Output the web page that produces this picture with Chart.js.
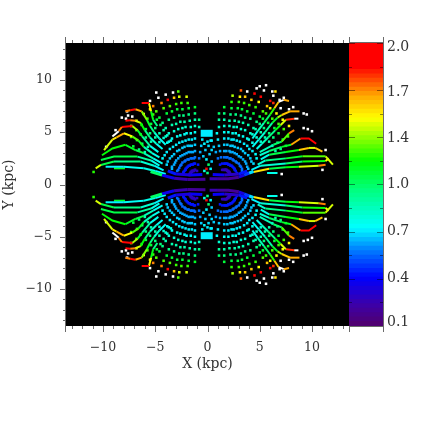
<!DOCTYPE html>
<html>
<head>
<meta charset="utf-8">
<style>
  html, body { margin: 0; padding: 0; background: #fff; }
  #wrap { position: relative; width: 436px; height: 436px; overflow: hidden; }
  canvas { position: absolute; top: 0; }
  #mapCanvas { left: 0; }
  #barCanvas { left: 349px; }
</style>
<script src="https://cdn.jsdelivr.net/npm/chart.js@4"></script>
</head>
<body>
<div id="wrap">
  <canvas id="mapCanvas" width="436" height="436"></canvas>
  <canvas id="barCanvas" width="87" height="436"></canvas>
</div>
<script>
// Readings are [x kpc, y kpc, value]. Upper half only: the lower half of the
// picture is its mirror image, so the same readings are drawn with y negated.

// separate dots, one row per arm, right of centre
const dotsRight = [
  [1.4,1.4,.28],[1.2,1.9,.45],[1,2.5,.58],[.8,3.1,.66],[.6,3.6,.7],[.4,4.2,.74],
  [1.5,1.4,.28],[1.4,2,.45],[1.3,2.6,.58],[1.2,3.2,.66],[1.1,3.7,.7],[1,4.3,.74],[.9,4.9,.78],[1.1,5.5,.85],[1.1,6.2,.95],[1.1,6.8,1.05],
  [1.6,1.4,.28],[1.6,2,.45],[1.6,2.6,.58],[1.6,3.2,.66],[1.6,3.8,.7],[1.6,4.4,.74],[1.6,5,.78],[1.6,5.6,.85],[1.6,6.2,.92],[1.6,6.8,1.02],[1.6,7.4,1.12],
  [1.7,1.4,.28],[1.7,2,.45],[1.8,2.6,.58],[1.8,3.2,.66],[1.9,3.8,.7],[2,4.4,.74],[2,5,.78],[2.1,5.6,.85],[2.1,6.1,.92],[2.2,6.7,1],[2.3,7.3,1.12],[2.3,7.9,1.25],[2.4,8.5,1.4],
  [1.7,1.4,.28],[1.8,2,.45],[1.9,2.6,.58],[2.1,3.2,.66],[2.2,3.7,.7],[2.3,4.3,.74],[2.4,4.9,.78],[2.5,5.5,.85],[2.6,6.1,.92],[2.7,6.7,1],[2.9,7.3,1.12],[3,7.9,1.27],[3.1,8.4,1.5],[3.2,9,1.75],
  [1.8,1.4,.28],[1.9,2,.45],[2.1,2.5,.58],[2.2,3.1,.66],[2.4,3.7,.7],[2.5,4.3,.74],[2.7,4.9,.78],[2.8,5.5,.85],[3,6,.92],[3.2,6.6,1],[3.3,7.2,1.12],[3.5,7.8,1.27],[3.6,8.4,1.6],[3.8,8.9,2.2],
  [1.8,1.4,.28],[2,1.9,.45],[2.2,2.5,.58],[2.4,3.1,.66],[2.6,3.6,.7],[2.8,4.2,.74],[3,4.7,.78],[3.2,5.3,.85],[3.4,5.9,.92],[3.6,6.4,1],[3.8,7,1.12],[4,7.6,1.27],[4.2,8.1,1.6],[4.5,8.7,1.9],[4.7,9.2,2.2],
  [1.9,1.3,.28],[2.1,1.9,.45],[2.4,2.4,.58],[2.6,3,.66],[2.9,3.5,.7],[3.1,4.1,.74],[3.4,4.6,.78],[3.6,5.2,.85],[3.9,5.7,.92],[4.1,6.3,1],[4.4,6.8,1.12],[4.6,7.4,1.27],[4.9,7.9,1.5],[5.1,8.4,1.85],[5.4,9,2.2],[5.6,9.5,2.2],
  [1.9,1.3,.28],[2.2,1.8,.45],[2.5,2.3,.58],[2.8,2.9,.66],[3.2,3.4,.7],[3.5,3.9,.74],[3.8,4.4,.78],[4.1,4.9,.85],[4.4,5.4,.92],[4.7,6,1],[5,6.5,1.12],[5.3,7,1.3],[5.7,7.5,1.6],[6,8,1.85],[6.3,8.5,2.2],[6.5,8.9,1.55],
  [2,1.3,.28],[2.3,1.8,.45],[2.7,2.2,.58],[3,2.7,.66],[3.4,3.2,.7],[3.8,3.7,.74],
  [2,1.2,.28],[2.4,1.7,.45],[2.8,2.1,.58],[3.2,2.6,.66],[3.6,3,.7],[4,3.4,.74],
  [2.1,1.2,.28],[2.5,1.6,.45],[3,2,.58],[3.4,2.4,.66],[3.9,2.8,.7],[4.3,3.2,.74],
  [2.1,1.1,.28],[2.6,1.5,.45],[3.1,1.8,.58],[3.6,2.2,.66],[4.1,2.5,.7],[4.6,2.9,.76],
  [2.1,1.1,.28],[2.6,1.4,.45],[3.2,1.7,.58],[3.7,2,.66],[4.2,2.2,.7],[4.7,2.5,.76],
  [2.2,1,.28],[2.7,1.3,.45],[3.3,1.5,.58],[3.8,1.7,.66],[4.4,2,.72],
  [2.2,1,.28],[2.8,1.1,.45],[3.3,1.3,.58],[3.9,1.5,.68],
  [3.95,4.3,.8],[4.3,4.8,.85],[4.6,5.3,.92],[5,5.8,1.02],[5.3,6.3,1.12],[5.6,6.8,1.28],[6,7.3,1.5],[6.3,7.8,1.8],
  [4.3,4,.8],[4.7,4.5,.85],[5.1,5,.92],[5.4,5.4,1.02],[5.8,5.9,1.12],[6.2,6.3,1.28],[6.6,6.8,1.5],
  [5.1,4.1,.85],[5.5,4.5,.92],[5.9,4.9,1.02],[6.4,5.4,1.12],[6.8,5.8,1.28],[7.2,6.2,1.5],
  [5.9,4.1,.92],[6.3,4.5,1.02],[6.8,4.9,1.12],[7.3,5.3,1.28],[7.8,5.6,1.5],
  [6.2,3.7,.92],[6.7,4,1.02],[7.2,4.3,1.12],[7.7,4.6,1.28],
  [6.5,3.2,.92],[7,3.4,1.02],[7.5,3.7,1.12],
  [7,7.3,2.2],[7.8,7.2,2.2],[8.2,7.4,2.2],[9.2,6.8,2.2],[9.5,6.7,2.2],[9.2,5.4,2.2],[9.6,5.3,2.2],[10,5.1,2.2],
  [7.1,1,2.2],[11,1.4,2.2],[11.3,3.3,2.2],[6.9,8.1,2.2],[7.3,8.3,2.2],[6.2,8.9,2.2],[5,9.4,2.2]
];

// separate dots, left of centre
const dotsLeft = [
  [-1,1.3,.28],[-.9,1.9,.45],[-.8,2.5,.58],[-.7,3.1,.66],[-.6,3.7,.7],[-.5,4.3,.74],[-.5,4.9,.78],[-.8,5.5,.88],[-.8,6.2,1],
  [-1.2,1.4,.28],[-1.2,2,.45],[-1.2,2.6,.58],[-1.2,3.2,.66],[-1.2,3.8,.7],[-1.2,4.4,.74],[-1.2,5,.78],[-1.2,5.6,.85],[-1.2,6.2,.92],[-1.2,6.8,1.02],[-1.2,7.4,1.15],
  [-1.2,1.4,.28],[-1.3,2,.45],[-1.3,2.5,.58],[-1.4,3.1,.66],[-1.5,3.7,.7],[-1.5,4.3,.74],[-1.6,4.9,.78],[-1.6,5.5,.85],[-1.7,6.1,.92],[-1.8,6.7,1],[-1.8,7.3,1.12],[-1.9,7.8,1.27],[-2,8.4,1.45],
  [-1.3,1.3,.28],[-1.4,1.9,.45],[-1.5,2.5,.58],[-1.6,3.1,.66],[-1.7,3.7,.7],[-1.8,4.3,.74],[-2,4.9,.78],[-2.1,5.5,.85],[-2.2,6,.92],[-2.3,6.6,1],[-2.4,7.2,1.12],[-2.5,7.8,1.27],[-2.7,8.4,1.45],[-2.8,8.9,1.3],
  [-1.3,1.3,.28],[-1.5,1.9,.45],[-1.6,2.5,.58],[-1.8,3.1,.66],[-1.9,3.7,.7],[-2.1,4.2,.74],[-2.2,4.8,.78],[-2.4,5.4,.85],[-2.6,6,.92],[-2.7,6.6,1],[-2.9,7.2,1.12],[-3,7.7,1.27],[-3.2,8.3,1.6],[-3.3,8.8,2.2],
  [-1.4,1.3,.28],[-1.6,1.9,.45],[-1.8,2.4,.58],[-2,3,.66],[-2.2,3.6,.7],[-2.4,4.1,.74],[-2.6,4.7,.78],[-2.8,5.3,.85],[-3,5.8,.92],[-3.2,6.4,1],[-3.4,7,1.12],[-3.6,7.5,1.3],[-3.8,8.1,1.85],[-4,8.6,2.2],
  [-1.4,1.3,.28],[-1.7,1.8,.45],[-1.9,2.4,.58],[-2.2,2.9,.66],[-2.4,3.5,.7],[-2.7,4,.74],[-2.9,4.6,.78],[-3.2,5.1,.85],[-3.4,5.7,.92],[-3.7,6.2,1],[-3.9,6.8,1.12],[-4.2,7.3,1.3],[-4.4,7.8,1.7],[-4.7,8.3,2.2],[-4.9,8.8,2.2],
  [-1.5,1.3,.28],[-1.8,1.8,.45],[-2.1,2.3,.58],[-2.4,2.8,.66],[-2.7,3.3,.7],[-3,3.8,.74],[-3.4,4.4,.78],[-3.7,4.9,.85],[-4,5.4,.92],[-4.3,5.9,1],[-4.6,6.4,1.12],[-4.9,7,1.3],[-5.2,7.5,1.7],[-5.5,8,2.2],
  [-1.5,1.2,.28],[-1.9,1.7,.45],[-2.2,2.2,.58],[-2.6,2.7,.66],[-2.9,3.2,.7],[-3.3,3.6,.74],[-3.7,4.1,.78],[-4,4.6,.85],
  [-1.6,1.2,.28],[-2,1.6,.45],[-2.4,2.1,.58],[-2.8,2.5,.66],[-3.2,2.9,.7],[-3.6,3.4,.74],
  [-1.6,1.1,.28],[-2.1,1.5,.45],[-2.5,1.9,.58],[-3,2.3,.66],[-3.4,2.7,.7],[-3.9,3.1,.74],
  [-1.6,1.1,.28],[-2.1,1.4,.45],[-2.6,1.8,.58],[-3.1,2.1,.66],[-3.6,2.5,.7],[-4.1,2.8,.74],
  [-1.7,1,.28],[-2.2,1.3,.45],[-2.7,1.6,.58],[-3.2,1.9,.66],[-3.8,2.2,.7],[-4.3,2.5,.76],
  [-1.7,1,.28],[-2.3,1.2,.45],[-2.8,1.4,.58],[-3.4,1.7,.66],[-3.9,1.9,.72],
  [-1.7,.9,.28],[-2.3,1.1,.45],[-2.9,1.3,.58],[-3.4,1.5,.68],
  [-3.5,4.2,.8],[-3.85,4.7,.85],[-4.2,5.2,.92],[-4.5,5.7,1.02],[-4.85,6.2,1.12],[-5.2,6.7,1.28],[-5.5,7.2,1.5],
  [-3.85,4,.8],[-4.2,4.45,.85],[-4.6,4.9,.92],[-5,5.4,1.02],[-5.4,5.8,1.12],[-5.75,6.3,1.28],[-6.1,6.75,1.5],
  [-4.6,4.05,.85],[-5,4.5,.92],[-5.5,4.9,1.02],[-5.9,5.3,1.12],[-6.3,5.7,1.28],[-6.8,6.1,1.5],
  [-5.4,4.1,.92],[-5.9,4.5,1.02],[-6.4,4.8,1.12],[-6.8,5.2,1.28],[-7.3,5.6,1.5],
  [-5.7,3.6,.92],[-6.25,3.9,1.02],[-6.75,4.25,1.12],[-7.3,4.55,1.28],
  [-6,3.1,.92],[-6.55,3.35,1.02],[-7.1,3.65,1.12],
  [-7.7,7,2.2],[-7.6,6.6,2.2],[-7.8,6.3,2.2],[-7.2,6.5,2.2],[-8.2,6.4,2.2],[-8.8,5.2,2.2],[-9.7,3.6,2.2],[-10.9,1.2,1.25]
];

// separate dots near x = 0
const dotsCentre = [
  [0,1.1,1],[-.1,1.5,1.85],[.1,1.9,1.05],[-.3,1.3,.8],[.3,1.5,.75],[-.1,2.4,.75],[.2,2.9,.7],[-.2,3.3,.7],[.1,3.7,.72],[-.3,3.9,.75],
  [.4,2.2,.7],[-.4,2.7,.7],[.4,3.3,.72],[0,4.1,.74],[.3,4.2,.76]
];

// connected runs, right of centre
const curveR1 = [[4.3,4.4,.8],[4.8,5.1,.9],[5.4,5.9,1.05],[6,6.7,1.25],[6.4,7.3,1.6],[6.8,7.9,2.2],[7.3,8.1,1.65],[7.8,8,1.6]];
const curveR2 = [[4.3,3.6,.78],[4.9,4.3,.85],[5.5,5,.95],[6.2,5.9,1.15],[6.7,6.4,1.4],[7.1,6.65,1.6],[7.9,7,1.65],[8.8,7,1.6]];
const curveR3 = [[4.7,3.4,.8],[5.2,3.9,.9],[5.8,4.5,1],[6.5,5.2,1.2],[7,5.7,1.45],[7.5,6.2,1.8],[8.3,6.3,2.2],[8.7,6.3,2.2]];
const curveR4 = [[5,3.1,.9],[6.3,3.8,1.05],[7.1,4.1,1.3],[7.8,4.9,1.7],[8.3,5.2,1.85]];
const curveR5 = [[5,2.8,.85],[5.9,3.2,1.05],[7.1,3.6,1.15],[8,3.8,1.65],[8.9,4.4,1.85],[9.7,4.4,1.85],[10.4,3.9,1.7]];
const curveR6 = [[5.1,2.4,.8],[5.9,2.85,1.1],[7.5,3.1,1.2],[8.75,3.3,1.6],[9.7,3.5,1.45],[10.3,3.5,1.6],[11,3.15,2.2]];
const curveR7 = [[4.8,1.9,.85],[5.55,2.3,1],[7.5,2.5,1.15],[9.1,2.7,1.3],[11.3,2.7,1.45],[12,1.9,1.6]];
const curveR8 = [[4.2,1.4,.75],[5.1,1.8,.85],[7.5,2,1.05],[9.1,2.2,1.2],[11.3,2.25,1.5],[11.6,2.5,2.2]];
const curveR9 = [[3.6,1,.6],[4.4,1.2,1.55],[5.9,1.5,1.1],[7.5,1.65,1.2],[8.75,1.7,1.45],[10.65,1.8,1.7],[11.3,1.9,1.55]];
const curveR10 = [[5.7,1.1,.8],[6.7,1.1,.8]];

// connected runs, left of centre
const curveL1 = [[-4.8,5.6,1],[-5.2,6.2,1.18],[-5.4,7,1.5],[-5.6,7.8,1.85],[-6.3,7.8,1.75]];
const curveL2 = [[-4,3.8,.78],[-4.6,4.4,.85],[-5.1,5,1],[-5.5,5.6,1.15],[-5.8,6.2,1.35],[-6.3,7,1.65],[-6.9,7.2,1.85],[-7.4,7.1,1.7],[-7.85,7,2.2]];
const curveL3 = [[-4.3,3.4,.78],[-4.9,3.9,.85],[-5.5,4.5,1],[-6,5.2,1.2],[-6.4,5.9,1.45],[-6.9,6.1,1.7],[-7.4,6.15,1.85],[-7.85,6.1,1.9]];
const curveL4 = [[-4.7,3.1,.8],[-5.5,3.7,.95],[-6.25,4.6,1.15],[-6.7,5.2,1.4],[-7.2,5.6,1.85],[-8.2,5.5,1.7],[-8.5,5.1,2.2],[-9.1,4.6,2.2]];
const curveL5 = [[-4.6,2.6,.8],[-5.3,3,.9],[-6.1,3.6,1.15],[-6.6,4.2,1.3],[-7.2,4.6,1.5],[-8,4.9,1.65],[-8.7,4.5,1.55],[-9.1,4.3,1.45],[-9.9,3.3,1.85]];
const curveL6 = [[-4.3,2,.78],[-5.2,2.5,.9],[-6.1,3,1.1],[-6.9,3.3,1.15],[-7.85,3.8,1.2],[-9.1,3.45,1.2],[-10.1,2.8,1.4]];
const curveL7 = [[-4.6,1.8,.8],[-5.4,2.3,.95],[-6.7,2.67,1.1],[-8.95,2.67,1.1],[-10.2,2.35,1.35]];
const curveL8 = [[-4.2,1.35,.75],[-5.1,1.8,.85],[-6.4,2.2,1],[-8.95,2.2,1.1],[-10.2,1.87,1.45],[-10.7,1.55,1.25]];
const curveL9 = [[-4,1,.75],[-5,1.3,.8],[-6.1,1.55,.78],[-8,1.7,.75],[-9.75,1.7,.8]];
const curveL10 = [[-8.95,1.55,1.15],[-7.9,1.55,1.15]];

// thick strip along the gap and the cyan block on the axis
const stripRight = [[.2,.55,.25],[1,.55,.2],[2,.55,.2],[3,.7,.35],[3.5,.9,.5],[4,1.1,.72],[4.4,1.25,1]];
const stripRightUpper = [[.5,.95,.4],[1.6,.9,.3],[3,1,.45],[3.8,1.3,.62]];
const stripLeft = [[-.2,.5,.2],[-1.9,.48,.25],[-3.2,.6,.38],[-4.35,.9,1.05],[-5.45,1.23,.78]];
const stripLeftUpper = [[-.5,.95,.4],[-1.6,.9,.35],[-3,1,.45],[-3.8,1.3,.62]];
const blockCentre = [[-.65,4.9,.74],[.5,4.9,.74]];

const curvesThin = [curveR1, curveR2, curveR3, curveR4, curveR5, curveR6, curveR7, curveR8, curveR9, curveR10,
  curveL1, curveL2, curveL3, curveL4, curveL5, curveL6, curveL7, curveL8, curveL9, curveL10];
const curvesThick = [stripRight, stripRightUpper, stripLeft, stripLeftUpper];

// axis ticks
const xTicks = [-13,-12,-11,-10,-9,-8,-7,-6,-5,-4,-3,-2,-1,0,1,2,3,4,5,6,7,8,9,10,11,12,13];
const yTicks = [-13,-12,-11,-10,-9,-8,-7,-6,-5,-4,-3,-2,-1,0,1,2,3,4,5,6,7,8,9,10,11,12,13];
const axisLimit = 13.54;

// colour bar
const cbLevels = [2.00,1.97,1.94,1.91,1.88,1.85,1.82,1.79,1.76,1.73,1.70,1.67,1.64,1.61,1.58,1.55,
  1.52,1.49,1.46,1.43,1.40,1.37,1.34,1.31,1.28,1.25,1.22,1.19,1.16,1.13,1.10,1.07,
  1.04,1.01,0.98,0.95,0.92,0.89,0.86,0.83,0.80,0.77,0.74,0.71,0.68,0.65,0.62,0.59,
  0.56,0.53,0.50,0.47,0.44,0.41,0.38,0.35,0.32,0.29,0.26,0.23,0.20,0.17,0.14,0.11];
const cbTickValues = [0.1,0.258,0.417,0.575,0.733,0.892,1.05,1.208,1.367,1.525,1.683,1.842,2.0];
const cbLabelValues = [0.127,0.417,0.733,1.05,1.36,1.67,1.972];
const cbLabels = ["0.1","0.4","0.7","1.0","1.4","1.7","2.0"];

// colour map stops
const stopValues = [0.1,0.24,0.42,0.61,0.76,1.01,1.21,1.35,1.5,1.65,1.85,2.0];
const stopColors = [[80,0,110],[60,0,170],[0,0,255],[0,128,255],[0,255,255],[0,255,128],[0,255,0],[128,255,0],[255,255,0],[255,170,0],[255,0,0],[255,0,0]];

function colorOf(v) {
  if (v > 2.0) return "#ffffff";
  let i = 0;
  while (i < stopValues.length - 2 && v > stopValues[i + 1]) i++;
  const t = Math.max(0, Math.min(1, (v - stopValues[i]) / (stopValues[i + 1] - stopValues[i])));
  const a = stopColors[i], b = stopColors[i + 1];
  return `rgb(${a[0] + (b[0] - a[0]) * t},${a[1] + (b[1] - a[1]) * t},${a[2] + (b[2] - a[2]) * t})`;
}

const toPoint = (r) => ({ x: r[0], y: r[1], v: r[2] });
const toLower = (r) => ({ x: r[0], y: -r[1], v: r[2] });

function curveSet(rows, mapper, width) {
  return {
    data: rows.map(mapper),
    showLine: true,
    pointRadius: 0,
    borderWidth: width,
    borderColor: "#fff",
    segment: { borderColor: (ctx) => colorOf(ctx.p0.raw.v) },
  };
}

function dotSet(rows, mapper) {
  const data = rows.map(mapper);
  return {
    data,
    showLine: false,
    pointStyle: "rect",
    pointRadius: 1.8,
    pointBorderWidth: 0,
    pointBackgroundColor: data.map((d) => colorOf(d.v)),
  };
}

const datasets = [];
[toPoint, toLower].forEach((m) => {
  curvesThick.forEach((c) => datasets.push(curveSet(c, m, 3)));
  datasets.push(curveSet(blockCentre, m, 7));
  curvesThin.forEach((c) => datasets.push(curveSet(c, m, 2)));
  datasets.push(dotSet(dotsRight, m));
  datasets.push(dotSet(dotsLeft, m));
  datasets.push(dotSet(dotsCentre, m));
});

const TICK_COLOR = "#6b6b6b";
const TEXT_COLOR = "#333";
const serif = "'DejaVu Serif', serif";

const axisPlugin = {
  id: "axisPlugin",
  beforeDatasetsDraw(chart) {
    const { ctx, chartArea: a } = chart;
    ctx.save();
    ctx.fillStyle = "#000";
    ctx.fillRect(a.left, a.top, a.right - a.left, a.bottom - a.top);
    ctx.restore();
  },
  afterDraw(chart) {
    const { ctx, chartArea: a, scales } = chart;
    ctx.save();
    ctx.strokeStyle = TICK_COLOR;
    ctx.lineWidth = 1;
    ctx.beginPath();
    xTicks.forEach((t) => {
      const len = t % 5 === 0 ? 6 : 3;
      const px = Math.round(scales.x.getPixelForValue(t)) + 0.5;
      ctx.moveTo(px, a.bottom); ctx.lineTo(px, a.bottom + len);
      ctx.moveTo(px, a.top); ctx.lineTo(px, a.top - len);
    });
    yTicks.forEach((t) => {
      const len = t % 5 === 0 ? 6 : 3;
      const py = Math.round(scales.y.getPixelForValue(t)) + 0.5;
      ctx.moveTo(a.left, py); ctx.lineTo(a.left - len, py);
    });
    ctx.moveTo(a.left - 0.5, a.top - 6); ctx.lineTo(a.left - 0.5, a.bottom + 6);
    ctx.stroke();
    ctx.restore();
  },
};

new Chart(document.getElementById("mapCanvas"), {
  type: "scatter",
  data: { datasets },
  plugins: [axisPlugin],
  options: {
    responsive: false,
    animation: false,
    layout: { padding: { left: 1, top: 43, right: 87, bottom: 63 } },
    plugins: { legend: { display: false }, tooltip: { enabled: false } },
    scales: {
      x: {
        min: -axisLimit, max: axisLimit,
        afterFit: (s) => { s.height = 47; },
        grid: { display: false, drawTicks: false },
        border: { display: false },
        ticks: {
          stepSize: 1, autoSkip: false, maxRotation: 0, includeBounds: false, padding: 14,
          color: TEXT_COLOR, font: { family: serif, size: 12.5 },
          callback: (v) => (v % 5 === 0 ? String(v).replace("-", "\u2212") : ""),
        },
        title: { display: true, text: "X (kpc)", color: TEXT_COLOR, padding: 0, font: { family: serif, size: 14 } },
      },
      y: {
        min: -axisLimit, max: axisLimit,
        afterFit: (s) => { s.width = 65; },
        grid: { display: false, drawTicks: false },
        border: { display: false },
        ticks: {
          stepSize: 1, autoSkip: false, includeBounds: false, padding: 14,
          color: TEXT_COLOR, font: { family: serif, size: 12.5 },
          callback: (v) => (v % 5 === 0 ? String(v).replace("-", "\u2212") : ""),
        },
        title: { display: true, text: "Y (kpc)", color: TEXT_COLOR, padding: 0, font: { family: serif, size: 14 } },
      },
    },
  },
});

const barPlugin = {
  id: "barPlugin",
  afterDraw(chart) {
    const { ctx, chartArea: a, scales } = chart;
    ctx.save();
    ctx.strokeStyle = "rgba(0,0,0,0.45)";
    ctx.beginPath();
    cbTickValues.forEach((t, i) => {
      const len = i % 2 === 0 ? 6 : 3;
      const py = Math.round(scales.y2.getPixelForValue(t)) + 0.5;
      ctx.moveTo(a.left, py); ctx.lineTo(a.left + len, py);
      ctx.moveTo(a.right, py); ctx.lineTo(a.right - len, py);
    });
    ctx.stroke();
    ctx.strokeStyle = TICK_COLOR;
    ctx.beginPath();
    ctx.moveTo(a.right + 0.5, a.top - 6); ctx.lineTo(a.right + 0.5, a.bottom + 6);
    ctx.moveTo(a.left + 0.5, a.top - 6); ctx.lineTo(a.left + 0.5, a.top);
    ctx.moveTo(a.left + 0.5, a.bottom); ctx.lineTo(a.left + 0.5, a.bottom + 6);
    ctx.moveTo(a.left, a.top - 0.5); ctx.lineTo(a.right, a.top - 0.5);
    ctx.moveTo(a.left, a.bottom + 0.5); ctx.lineTo(a.right, a.bottom + 0.5);
    ctx.stroke();
    ctx.restore();
  },
};

new Chart(document.getElementById("barCanvas"), {
  type: "bar",
  data: {
    labels: cbLevels.map(String),
    datasets: [{
      data: cbLevels.map(() => 1),
      backgroundColor: cbLevels.map(colorOf),
      borderWidth: 0,
      barPercentage: 1.25,
      categoryPercentage: 1,
    }],
  },
  plugins: [barPlugin],
  options: {
    indexAxis: "y",
    responsive: false,
    animation: false,
    layout: { padding: { left: 0, top: 43, right: 0, bottom: 110 } },
    plugins: { legend: { display: false }, tooltip: { enabled: false } },
    scales: {
      x: { display: false, min: 0, max: 1 },
      y: { display: false },
      y2: {
        type: "linear", position: "right", min: 0.1, max: 2.0, offset: false,
        afterFit: (s) => { s.width = 53; },
        afterBuildTicks: (s) => { s.ticks = cbLabelValues.map((value) => ({ value })); },
        grid: { display: false, drawTicks: false },
        border: { display: false },
        ticks: {
          autoSkip: false, padding: 4, color: TEXT_COLOR, font: { family: serif, size: 14 },
          callback: (v, i) => cbLabels[i],
        },
      },
    },
  },
});
</script>
</body>
</html>
